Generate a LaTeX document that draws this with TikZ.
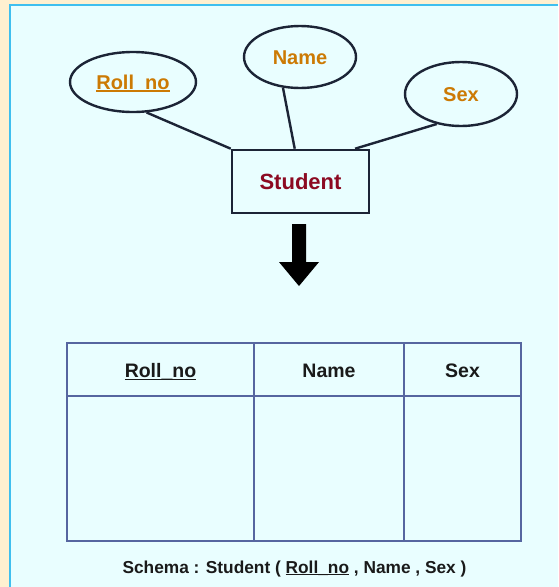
\documentclass[tikz,border=0pt]{standalone}
\usepackage{fontspec}
\usetikzlibrary{shapes.geometric}
\setmainfont{Liberation Sans}
\definecolor{cream}{HTML}{FFF0D0}
\definecolor{panel}{HTML}{E9FEFF}
\definecolor{panelrule}{HTML}{3FBFEF}
\definecolor{attrtext}{HTML}{CC7A04}
\definecolor{enttext}{HTML}{8C0A22}
\definecolor{outline}{HTML}{1C2436}
\definecolor{gridline}{HTML}{5666A0}
\definecolor{ink}{HTML}{1A1A1A}
% key attribute: underline drawn at the height of the underscore
\newcommand{\keyattr}[1]{\setbox0\hbox{#1}\rlap{\rule[-0.12em]{\wd0}{0.065em}}\box0\relax}
\tikzset{
  attr/.style={ellipse, draw=outline, line width=2.4pt, inner sep=0pt,
    text=attrtext, font=\fontsize{20}{24}\selectfont\bfseries,
    text height=14.4pt, text depth=0pt},
  entity/.style={rectangle, draw=outline, line width=2.6pt, inner sep=0pt,
    minimum width=137pt, minimum height=63pt,
    text=enttext, font=\fontsize{22}{26}\selectfont\bfseries,
    text height=15.8pt, text depth=0pt},
  link/.style={draw=outline, line width=2.4pt},
  colhead/.style={inner sep=0pt, text=ink, font=\fontsize{19.5}{24}\selectfont\bfseries,
    text height=14pt, text depth=0pt},
  grid/.style={draw=gridline, line width=1.4pt}
}
\begin{document}
\begin{tikzpicture}[x=1pt,y=-1pt]
\useasboundingbox (0,0) rectangle (558,587);
% page background and panel
\fill[cream] (0,0) rectangle (558,587);
\fill[panel] (10,5) rectangle (558,587);
\draw[panelrule, line width=2pt] (10,587) -- (10,5) -- (558,5);

% ER diagram
\node[attr, minimum width=126pt, minimum height=60pt] (roll) at (133,82) {\keyattr{Roll\_no}};
\node[attr, minimum width=112pt, minimum height=62pt] (name) at (300,57) {Name};
\node[attr, minimum width=112pt, minimum height=64pt] (sex) at (461,94) {Sex};
\node[entity] (student) at (300.5,181.5) {Student};
\draw[link] (roll.-66) -- (student.north west);
\draw[link] (name.-119) -- (student.100);
\draw[link] (sex.-129) -- (student.31);

% conversion arrow
\fill[black] (292,224) -- (306,224) -- (306,262) -- (319,262) -- (299,286)
  -- (279,262) -- (292,262) -- cycle;

% relation table
\coordinate (tl) at (67,343);
\coordinate (br) at (521,541);
\draw[grid] (tl) rectangle (br);
\draw[grid] (67,396) -- (521,396);
\draw[grid] (254,343) -- (254,541);
\draw[grid] (404,343) -- (404,541);
\node[colhead] (h1) at (160.5,370.5) {\keyattr{Roll\_no}};
\node[colhead] (h2) at (329,370.5) {Name};
\node[colhead] (h3) at (462.5,370.5) {Sex};

% schema line
\node[anchor=base, inner sep=0pt, text=ink, font=\fontsize{17.3}{21}\selectfont\bfseries]
  (schema) at (294.5,573) {Schema : Student ( \keyattr{Roll\_no} , Name , Sex )};
\end{tikzpicture}
\end{document}
